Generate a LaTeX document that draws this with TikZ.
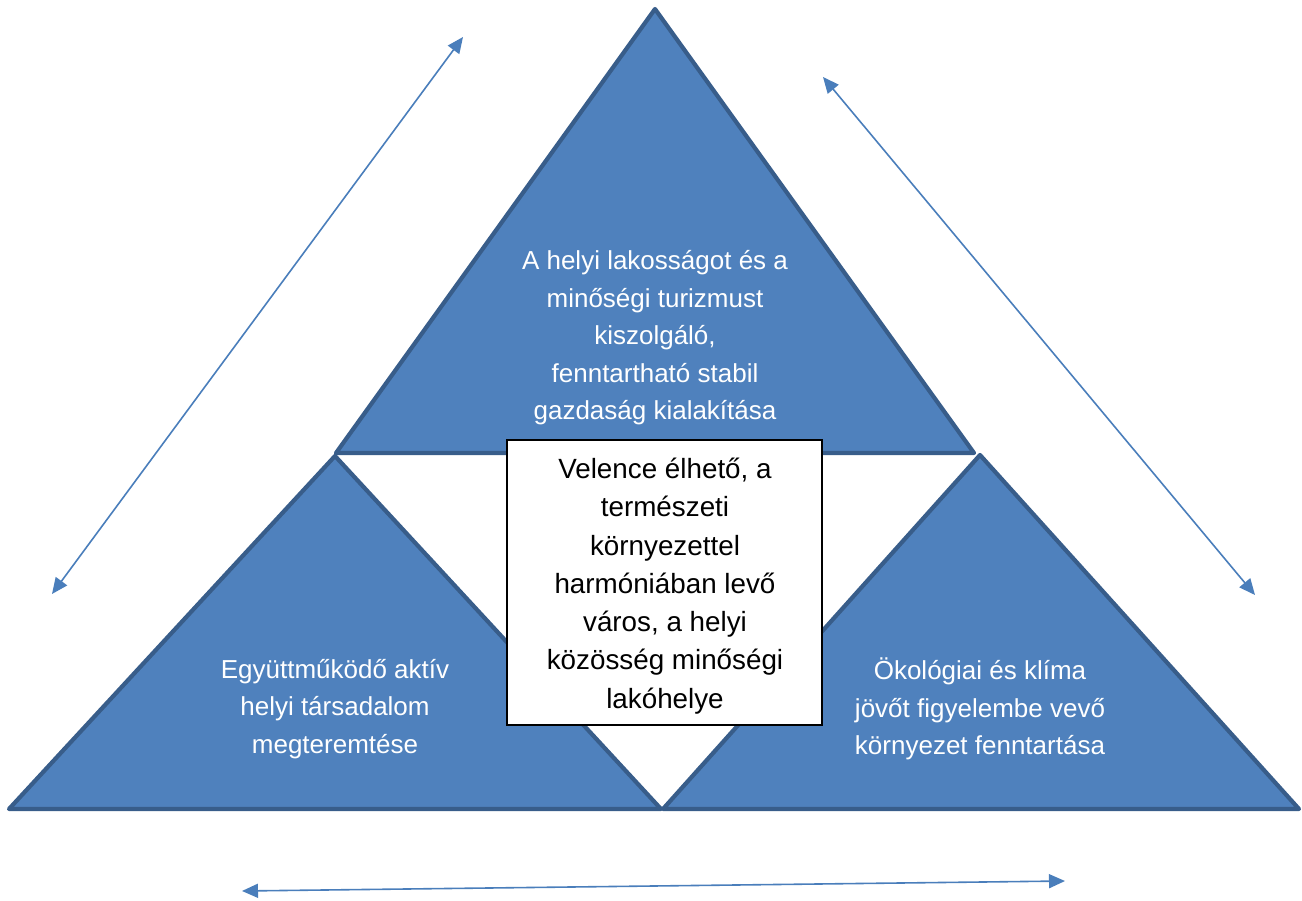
\documentclass[tikz,border=0pt]{standalone}
\usepackage{fontspec}
\setmainfont{Liberation Sans}
\usetikzlibrary{arrows.meta}
\definecolor{trifill}{HTML}{4F81BD}
\definecolor{triline}{HTML}{385D8A}
\definecolor{arrowc}{HTML}{4A7EBB}
\tikzset{
  tri/.style={fill=trifill, draw=triline, line width=4.2pt, line join=round},
  tritext/.style={text=white, align=center, font=\fontsize{26}{37.5}\selectfont},
  boxframe/.style={draw=black, line width=1.5pt, fill=white, minimum width=315pt, minimum height=285pt, inner sep=0pt},
  boxtext/.style={align=center, font=\fontsize{27.8}{38.3}\selectfont, inner sep=0pt},
  dblarrow/.style={draw=arrowc, line width=1.6pt, {Triangle[length=16pt,width=14pt]}-{Triangle[length=16pt,width=14pt]}}
}
\begin{document}
\begin{tikzpicture}[x=1pt,y=-1pt]
\useasboundingbox (0,0) rectangle (1302,901);
% triangle corners
\coordinate (tA) at (655,9);
\coordinate (tL) at (336,453);
\coordinate (tR) at (974,453);
\coordinate (lA) at (335,456);
\coordinate (lL) at (9,809);
\coordinate (lR) at (661,809);
\coordinate (rA) at (980,455);
\coordinate (rL) at (663,809);
\coordinate (rR) at (1299,809);
\draw[tri] (tA) -- (tR) -- (tL) -- cycle;
\draw[tri] (lA) -- (lR) -- (lL) -- cycle;
\draw[tri] (rA) -- (rR) -- (rL) -- cycle;
% texts
\node[tritext] (toptext) at (655,338) {A helyi lakosságot és a\\minőségi turizmust\\kiszolgáló,\\fenntartható stabil\\gazdaság kialakítása};
\node[tritext] (lefttext) at (335,709) {Együttműködő aktív\\helyi társadalom\\megteremtése};
\node[tritext] (righttext) at (980,709) {Ökológiai és klíma\\jövőt figyelembe vevő\\környezet fenntartása};
\node[boxframe] (center) at (664.5,582.5) {};
\node[boxtext] (centertext) at (665,586) {Velence élhető, a\\természeti\\környezettel\\harmóniában levő\\város, a helyi\\közösség minőségi\\lakóhelye};
% arrows
\coordinate (a1s) at (52,594);
\coordinate (a1e) at (463,37);
\coordinate (a2s) at (823,77);
\coordinate (a2e) at (1255,595);
\coordinate (a3s) at (242,891);
\coordinate (a3e) at (1065,881);
\draw[dblarrow] (a1s) -- (a1e);
\draw[dblarrow] (a2s) -- (a2e);
\draw[dblarrow] (a3s) -- (a3e);
\end{tikzpicture}
\end{document}
